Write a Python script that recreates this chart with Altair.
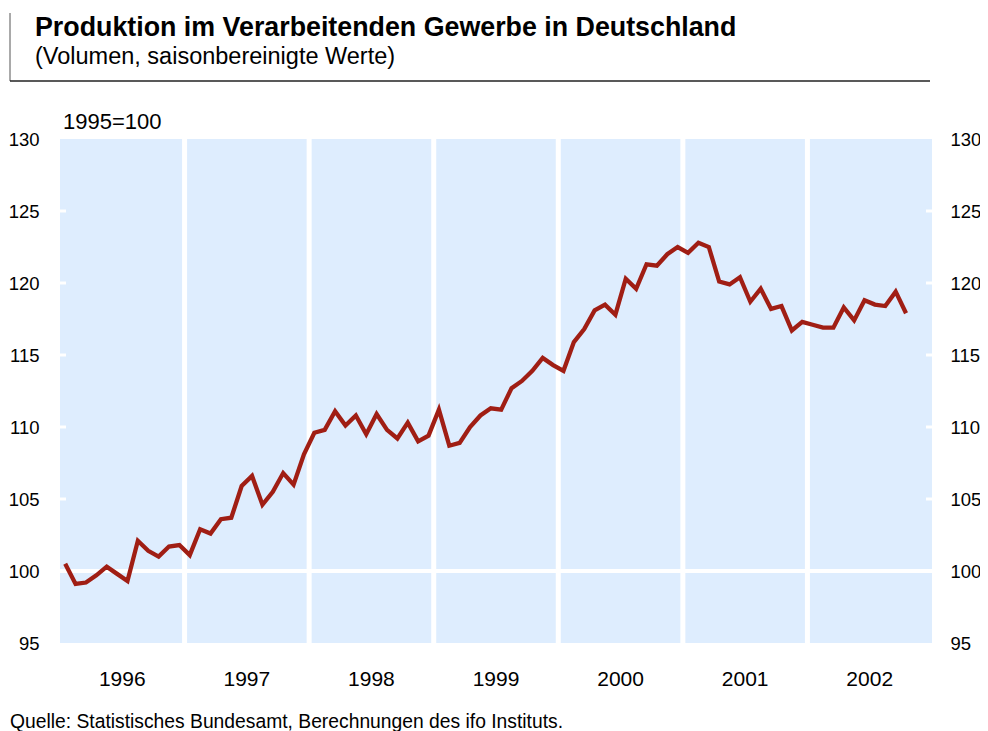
import altair as alt
import pandas as pd

# ---- data ----
years = ["1996", "1997", "1998", "1999", "2000", "2001", "2002"]
values = [
    100.5, 99.1, 99.2, 99.7, 100.3, 99.8, 99.3, 102.1, 101.4, 101.0, 101.7, 101.8,   # 1996
    101.1, 102.9, 102.6, 103.6, 103.7, 105.9, 106.6, 104.6, 105.5, 106.8, 106.0, 108.1,  # 1997
    109.6, 109.8, 111.1, 110.1, 110.8, 109.5, 110.9, 109.8, 109.2, 110.3, 109.0, 109.4,  # 1998
    111.2, 108.7, 108.9, 110.0, 110.8, 111.3, 111.2, 112.7, 113.2, 113.9, 114.8, 114.3,  # 1999
    113.9, 115.9, 116.8, 118.1, 118.5, 117.8, 120.3, 119.6, 121.3, 121.2, 122.0, 122.5,  # 2000
    122.1, 122.8, 122.5, 120.1, 119.9, 120.4, 118.7, 119.6, 118.2, 118.4, 116.7, 117.3,  # 2001
    117.1, 116.9, 116.9, 118.3, 117.4, 118.8, 118.5, 118.4, 119.4, 117.9,                # 2002
]
y_ticks = [95, 100, 105, 110, 115, 120, 125, 130]
title_text = "Produktion im Verarbeitenden Gewerbe in Deutschland"
subtitle_text = "(Volumen, saisonbereinigte Werte)"
unit_text = "1995=100"
source_text = "Quelle: Statistisches Bundesamt, Berechnungen des ifo Instituts."

# ---- layout ----
W, H = 872, 504
FONT = "Liberation Sans"
n_months = len(years) * 12

df = pd.DataFrame({"t": [i + 0.5 for i in range(len(values))], "v": values})
years_df = pd.DataFrame({"t": [i * 12 + 6 for i in range(len(years))], "year": years})
sep_df = pd.DataFrame({"t": [i * 12 for i in range(1, len(years))]})
tick_df = pd.DataFrame({"v": y_ticks[1:-1]})
grid_df = pd.DataFrame({"v": [100]})

xs = alt.Scale(domain=[0, n_months], nice=False, zero=False)
ys = alt.Scale(domain=[y_ticks[0], y_ticks[-1]], nice=False, zero=False)
X = alt.X("t:Q", scale=xs, axis=None)
Yn = alt.Y("v:Q", scale=ys, axis=None)

axis_common = dict(values=y_ticks, labelFontSize=18.5, labelFont=FONT, labelColor="black",
                   ticks=False, domain=False, grid=False, title=None)

seps = alt.Chart(sep_df).mark_rule(color="white", strokeWidth=5).encode(x=X)
grid = alt.Chart(grid_df).mark_rule(color="white", strokeWidth=4).encode(y=Yn)
lticks = alt.Chart(tick_df).mark_rule(color="white", strokeWidth=3).encode(
    y=alt.Y("v:Q", scale=ys, axis=alt.Axis(orient="left", labelPadding=21, **axis_common)),
    x=alt.value(0), x2=alt.value(6))
rticks = alt.Chart(tick_df).mark_rule(color="white", strokeWidth=3).encode(
    y=alt.Y("v:Q", scale=ys, axis=alt.Axis(orient="right", labelPadding=18, **axis_common)),
    x=alt.value(W - 6), x2=alt.value(W))
line = alt.Chart(df).mark_line(color="#A01E14", strokeWidth=4.3, strokeJoin="miter").encode(x=X, y=Yn)

year_labels = alt.Chart(years_df).mark_text(font=FONT, fontSize=21, color="black",
                                            baseline="middle", align="center").encode(
    x=X, y=alt.value(H + 37), text="year:N")

def txt(s, xv, yv, size, bold=False):
    return alt.Chart(pd.DataFrame({"s": [s]})).mark_text(
        font=FONT, fontSize=size, fontWeight="bold" if bold else "normal",
        color="black", align="left", baseline="middle").encode(
        x=alt.value(xv), y=alt.value(yv), text="s:N")

title = txt(title_text, -25, -111, 26.8, True)
subtitle = txt(subtitle_text, -25, -82, 23.5)
unit = txt(unit_text, 3, -17, 22)
source = txt(source_text, -50, 583, 19.3)

hdr_v = alt.Chart(grid_df).mark_rule(color="#555555", strokeWidth=1).encode(
    x=alt.value(-50), y=alt.value(-126), y2=alt.value(-58))
hdr_h = alt.Chart(grid_df).mark_rule(color="#222222", strokeWidth=1.3).encode(
    x=alt.value(-50), x2=alt.value(870), y=alt.value(-58))

chart = alt.layer(
    seps, grid, lticks, rticks, line, year_labels,
    title, subtitle, unit, source, hdr_v, hdr_h
).resolve_scale(y="independent").properties(
    width=W, height=H,
    autosize=alt.AutoSizeParams(type="none"),
    padding={"left": 52, "top": 131, "right": 48, "bottom": 92},
).configure_view(fill="#DEEDFE", strokeWidth=0)

chart.save("out.html", embed_options={"renderer": "svg", "actions": False})
